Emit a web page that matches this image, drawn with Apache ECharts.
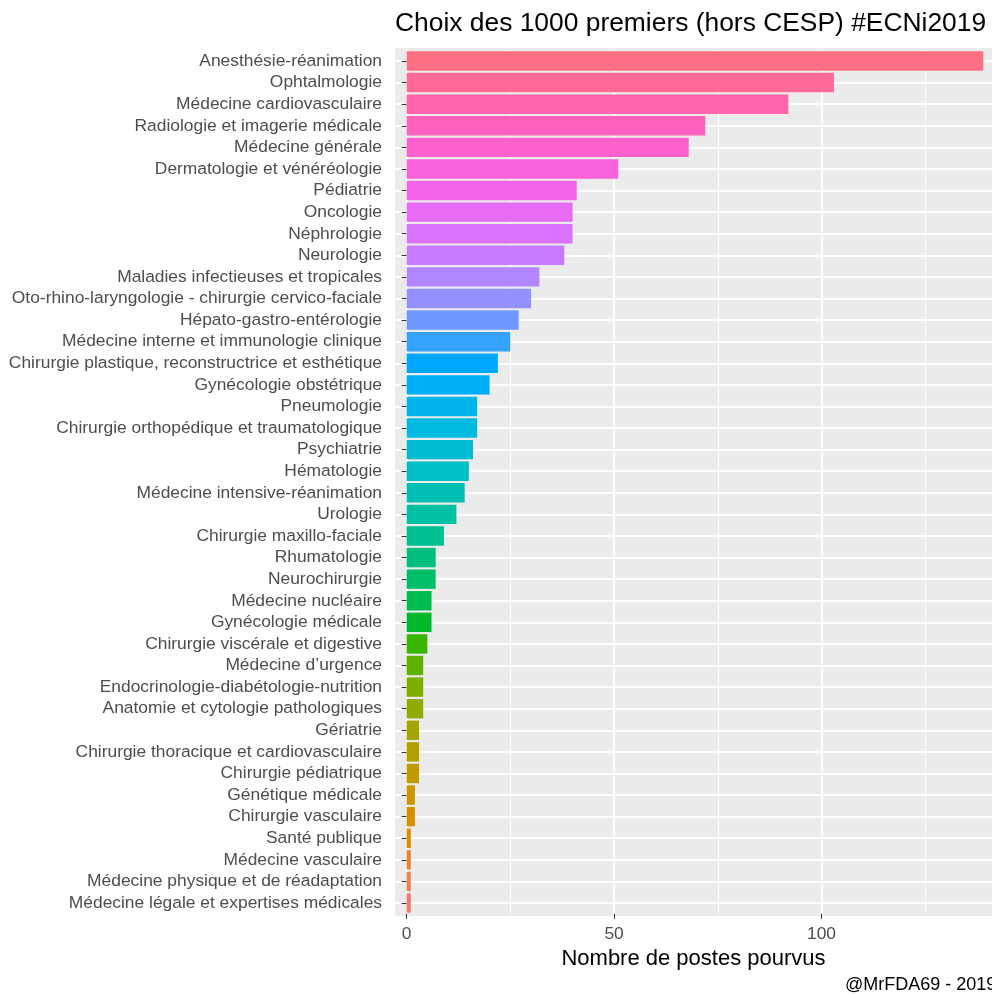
<!DOCTYPE html>
<html>
<head>
<meta charset="utf-8">
<script src="https://cdn.jsdelivr.net/npm/echarts@6/dist/echarts.min.js"></script>
<style>
  html, body { margin: 0; padding: 0; background: #fff; }
  #chart { width: 992px; height: 994px; }
</style>
</head>
<body>
<div id="chart"></div>
<script>
// top to bottom, as shown
const specialties = [
  "Anesthésie-réanimation",
  "Ophtalmologie",
  "Médecine cardiovasculaire",
  "Radiologie et imagerie médicale",
  "Médecine générale",
  "Dermatologie et vénéréologie",
  "Pédiatrie",
  "Oncologie",
  "Néphrologie",
  "Neurologie",
  "Maladies infectieuses et tropicales",
  "Oto-rhino-laryngologie - chirurgie cervico-faciale",
  "Hépato-gastro-entérologie",
  "Médecine interne et immunologie clinique",
  "Chirurgie plastique, reconstructrice et esthétique",
  "Gynécologie obstétrique",
  "Pneumologie",
  "Chirurgie orthopédique et traumatologique",
  "Psychiatrie",
  "Hématologie",
  "Médecine intensive-réanimation",
  "Urologie",
  "Chirurgie maxillo-faciale",
  "Rhumatologie",
  "Neurochirurgie",
  "Médecine nucléaire",
  "Gynécologie médicale",
  "Chirurgie viscérale et digestive",
  "Médecine d’urgence",
  "Endocrinologie-diabétologie-nutrition",
  "Anatomie et cytologie pathologiques",
  "Gériatrie",
  "Chirurgie thoracique et cardiovasculaire",
  "Chirurgie pédiatrique",
  "Génétique médicale",
  "Chirurgie vasculaire",
  "Santé publique",
  "Médecine vasculaire",
  "Médecine physique et de réadaptation",
  "Médecine légale et expertises médicales"
];
const postes = [
  139, 103, 92, 72, 68, 51, 41, 40, 40, 38,
  32, 30, 27, 25, 22, 20, 17, 17, 16, 15,
  14, 12, 9, 7, 7, 6, 6, 5, 4, 4,
  4, 3, 3, 3, 2, 2, 1, 1, 1, 1
];
const xTicks = [0, 50, 100];
const xMinorTicks = [25, 75, 125];

// ggplot2 default hue palette (hcl, c=100, l=65)
function hcl(h, c, l) {
  const WY = 100, Wu = 0.1978398, Wv = 0.4683363;
  const hr = h * Math.PI / 180;
  const U = c * Math.cos(hr), V = c * Math.sin(hr);
  const Y = WY * (l > 7.999592 ? Math.pow((l + 16) / 116, 3) : l / 903.3);
  const u = U / (13 * l) + Wu, v = V / (13 * l) + Wv;
  const X = 9.0 * Y * u / (4 * v);
  const Z = -X / 3 - 5 * Y + 3 * Y / v;
  const g = x => x > 0.00304 ? 1.055 * Math.pow(x, 1 / 2.4) - 0.055 : 12.92 * x;
  const cl = x => Math.round(255 * Math.min(1, Math.max(0, x)));
  const r = g((3.240479 * X - 1.537150 * Y - 0.498535 * Z) / WY);
  const gg = g((-0.969256 * X + 1.875992 * Y + 0.041556 * Z) / WY);
  const b = g((0.055648 * X - 0.204043 * Y + 1.057311 * Z) / WY);
  return 'rgb(' + cl(r) + ',' + cl(gg) + ',' + cl(b) + ')';
}
const n = specialties.length;
const barColor = i => hcl((15 + 360 * (n - 1 - i) / n) % 360, 100, 65);

const chart = echarts.init(document.getElementById('chart'));
const font = "'Liberation Sans', Arial, sans-serif";

chart.setOption({
  animation: false,
  title: {
    text: 'Choix des 1000 premiers (hors CESP) #ECNi2019',
    left: 390, top: 6,
    textStyle: { fontFamily: font, fontSize: 26.4, fontWeight: 'normal', color: '#000' }
  },
  graphic: [
    { type: 'rect', z: -10, shape: { x: 395, y: 48, width: 597, height: 868 }, style: { fill: '#EBEBEB' } },
    { type: 'text', left: 845, top: 976, style: { text: '@MrFDA69 - 2019', font: '18px ' + font, fill: '#000' } }
  ],
  grid: { left: 395, right: 0, top: 50.2, bottom: 80.2, containLabel: false },
  xAxis: [
    {
      type: 'value', min: -2.8, max: 141.1,
      name: 'Nombre de postes pourvus', nameLocation: 'middle', nameGap: 32,
      nameTextStyle: { fontFamily: font, fontSize: 22, color: '#000' },
      axisLine: { show: false },
      axisTick: { show: true, length: 5, customValues: xTicks, lineStyle: { color: '#333' } },
      axisLabel: { customValues: xTicks, margin: 12, fontFamily: font, fontSize: 17.4, color: '#4D4D4D' },
      splitLine: { show: true, lineStyle: { color: '#fff', width: 2 } }
    },
    {
      type: 'value', min: -2.8, max: 141.1, position: 'bottom',
      axisLine: { show: false },
      axisTick: { show: false, customValues: xMinorTicks },
      axisLabel: { show: false, customValues: xMinorTicks },
      splitLine: { show: true, lineStyle: { color: '#fff', width: 1 } }
    }
  ],
  yAxis: {
    type: 'category', data: specialties, inverse: true,
    axisLine: { show: false },
    axisTick: { show: true, alignWithLabel: true, interval: 0, length: 5, lineStyle: { color: '#333' } },
    axisLabel: { interval: 0, margin: 13, fontFamily: font, fontSize: 17.4, color: '#4D4D4D' },
    splitLine: { show: true, alignWithLabel: true, interval: 0, lineStyle: { color: '#fff', width: 2 } }
  },
  series: [{
    type: 'bar',
    data: postes,
    barWidth: '90%',
    itemStyle: { color: p => barColor(p.dataIndex) }
  }]
});
</script>
</body>
</html>
